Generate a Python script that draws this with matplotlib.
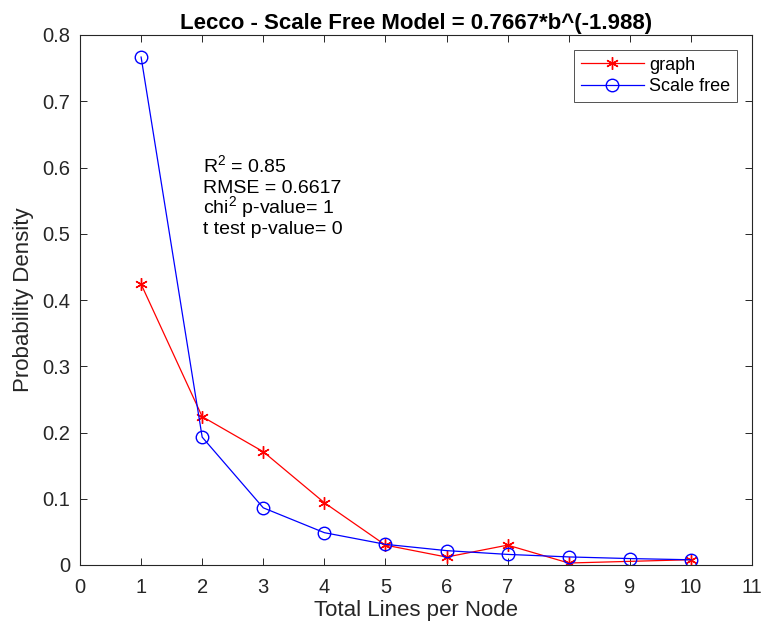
import matplotlib
matplotlib.use("Agg")
import matplotlib.pyplot as plt

plt.rcParams["font.family"] = ["Liberation Sans", "DejaVu Sans"]
plt.rcParams["mathtext.fontset"] = "custom"
plt.rcParams["mathtext.rm"] = "Liberation Sans"

# observed degree distribution (no sample at 9)
graph_x = [1, 2, 3, 4, 5, 6, 7, 8, 10]
graph_y = [0.424, 0.224, 0.171, 0.094, 0.030, 0.012, 0.030, 0.003, 0.008]

# fitted scale free model 0.7667*b^(-1.988)
model_x = [1, 2, 3, 4, 5, 6, 7, 8, 9, 10]
model_y = [0.7667, 0.193, 0.0863, 0.0488, 0.0312, 0.0217, 0.0160, 0.0122, 0.0097, 0.0079]

title = "Lecco - Scale Free Model = 0.7667*b^(-1.988)"
stats_lines = [
    r"R$^{2}$ = 0.85",
    "RMSE = 0.6617",
    r"chi$^{2}$ p-value= 1",
    "t test p-value= 0",
]
stats_y = [0.592, 0.561, 0.530, 0.499]

DARK = "#262626"

fig = plt.figure(figsize=(7.68, 6.34), dpi=100)
ax = fig.add_axes([80 / 768, 1 - 565 / 634, 672 / 768, 530 / 634])

ax.plot(graph_x, graph_y, color="#ff0000", marker=(6, 2, 0), markersize=9,
        markeredgewidth=1.0, linewidth=0.9, label="graph")
ax.plot(model_x, model_y, color="#0000ff", marker="o", markersize=9,
        markerfacecolor="none", markeredgewidth=1.0, linewidth=0.9,
        label="Scale free")

ax.set_xlim(0, 11)
ax.set_ylim(0, 0.8)
ax.set_xticks(range(0, 12))
ax.set_yticks([0, 0.1, 0.2, 0.3, 0.4, 0.5, 0.6, 0.7, 0.8])
ax.set_yticklabels(["0", "0.1", "0.2", "0.3", "0.4", "0.5", "0.6", "0.7", "0.8"])
ax.tick_params(direction="in", top=True, right=True, labelsize=14.5,
               length=5, width=0.7, colors=DARK)
ax.tick_params(axis="x", pad=9.5)
ax.tick_params(axis="y", pad=7)
for side in ax.spines.values():
    side.set_linewidth(0.8)
    side.set_color(DARK)

ax.set_xlabel("Total Lines per Node", fontsize=16, color=DARK, labelpad=2)
ax.set_ylabel("Probability Density", fontsize=16, color=DARK, labelpad=6)
ax.set_title(title, fontsize=16, fontweight="bold", pad=4)

for line, ypos in zip(stats_lines, stats_y):
    ax.text(2.013, ypos, line, fontsize=14, va="baseline", ha="left")

leg = ax.legend(loc="upper right", fontsize=13, fancybox=False,
                edgecolor=DARK, handlelength=3.5, handletextpad=0.3,
                borderaxespad=0.85, borderpad=0.35, labelspacing=0.25)
leg.get_frame().set_linewidth(0.7)

fig.savefig("out.png", dpi=100)
